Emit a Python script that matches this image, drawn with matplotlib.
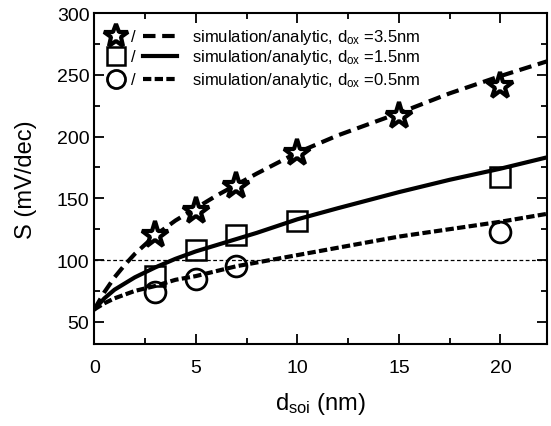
import numpy as np
import matplotlib
matplotlib.use("Agg")
import matplotlib.pyplot as plt
from matplotlib.ticker import MultipleLocator

plt.rcParams["font.family"] = ["Liberation Sans", "DejaVu Sans"]
plt.rcParams["mathtext.default"] = "regular"

# simulation points
x_star = [3, 5, 7, 10, 15, 20]
s_star = [120, 140, 160, 187, 217, 241]
x_sq = [3, 5, 7, 10, 20]
s_sq = [87, 108, 120, 132, 167]
x_circ = [3, 5, 7, 20]
s_circ = [74, 85, 95, 123]

# analytic curves
x_curve = [0, 0.5, 1, 1.5, 2, 3, 4, 5, 6, 7, 8, 10, 12, 15, 17.5, 20, 22.5]
s_35 = [60, 74, 86, 96, 105, 120, 132, 142, 152, 161, 170, 187, 201, 219, 235, 249, 262]
s_15 = [60, 69, 76, 81, 86, 94, 101, 107, 112, 117, 122, 133, 142, 155, 165, 174, 184]
s_05 = [60, 65, 69, 72, 75, 79, 84, 87, 91, 95, 98, 104, 110, 119, 125, 131, 138]

labels = ["simulation/analytic, d$_{ox}$ =3.5nm",
          "simulation/analytic, d$_{ox}$ =1.5nm",
          "simulation/analytic, d$_{ox}$ =0.5nm"]

fig = plt.figure(figsize=(5.51, 4.27), dpi=100)
ax = fig.add_axes([0.171, 0.192, 0.822, 0.775])

ax.axhline(100, color="black", lw=0.9, ls=(0, (3, 2)))

ax.plot(x_curve, s_35, color="black", lw=3, ls=(0, (3, 1.6)))
ax.plot(x_curve, s_15, color="black", lw=3, ls="-")
ax.plot(x_curve, s_05, color="black", lw=3, ls=(0, (2, 0.8)))

ax.plot(x_star, s_star, ls="none", marker="*", ms=20, mfc="white", mec="black", mew=3)
ax.plot(x_sq, s_sq, ls="none", marker="s", ms=14, mfc="none", mec="black", mew=1.8)
ax.plot(x_circ, s_circ, ls="none", marker="o", ms=15, mfc="none", mec="black", mew=2)

# legend drawn by hand: marker / line sample  text
tr = ax.transAxes
rows = [0.93, 0.87, 0.80]
mk = [dict(marker="*", ms=18, mfc="white", mec="black", mew=3),
      dict(marker="s", ms=13, mfc="none", mec="black", mew=1.8),
      dict(marker="o", ms=13, mfc="none", mec="black", mew=2)]
lss = [(0, (3, 1.6)), "-", (0, (2, 0.8))]
for y, m, ls, lab in zip(rows, mk, lss, labels):
    ax.plot([0.048], [y], transform=tr, ls="none", clip_on=False, **m)
    ax.text(0.086, y, "/", transform=tr, fontsize=12, va="center", ha="center")
    ax.plot([0.107, 0.183], [y, y], transform=tr, color="black", lw=3, ls=ls)
    ax.text(0.215, y, lab, transform=tr, fontsize=12, va="center")

ax.set_xlim(0, 22.3)
ax.set_ylim(32, 300)
ax.xaxis.set_major_locator(MultipleLocator(5))
ax.xaxis.set_minor_locator(MultipleLocator(2.5))
ax.yaxis.set_major_locator(MultipleLocator(50))
ax.yaxis.set_minor_locator(MultipleLocator(25))
ax.tick_params(which="both", direction="in", top=True, right=True, width=1.3, labelsize=14)
ax.tick_params(which="major", length=7)
ax.tick_params(which="minor", length=4)
ax.tick_params(axis="x", which="major", pad=11)
for sp in ax.spines.values():
    sp.set_linewidth(1.5)

ax.set_xlabel("d$_{soi}$ (nm)", fontsize=17, labelpad=10)
ax.set_ylabel("S (mV/dec)", fontsize=17, labelpad=14)

fig.savefig("out.png", dpi=100)
